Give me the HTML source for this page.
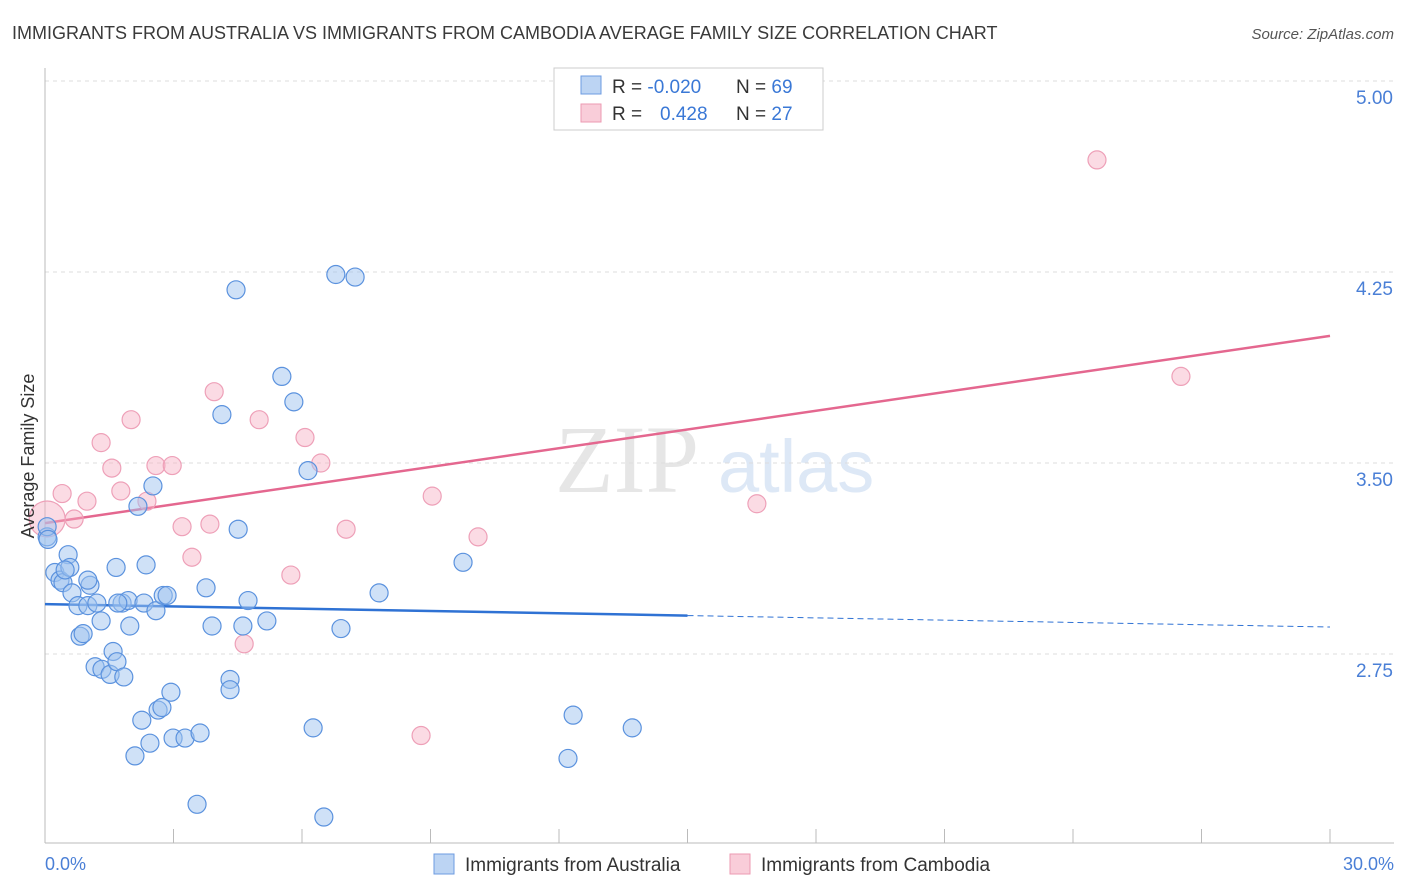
<!DOCTYPE html>
<html><head><meta charset="utf-8"><style>
body{margin:0;background:#fff;font-family:"Liberation Sans",sans-serif}
svg{display:block}
</style></head><body>
<svg id="chart" width="1406" height="892">
<text x="12" y="39" font-size="18" fill="#3a3a3a">IMMIGRANTS FROM AUSTRALIA VS IMMIGRANTS FROM CAMBODIA AVERAGE FAMILY SIZE CORRELATION CHART</text>
<text x="1394" y="39" font-size="15" fill="#555" text-anchor="end" font-style="italic">Source: ZipAtlas.com</text>
<text x="555" y="492" font-size="96" fill="#e6e6e6" font-family="Liberation Serif">ZIP</text>
<text x="718" y="492" font-size="74" fill="#dde8f6">atlas</text>
<g id="grid"></g><g id="axes"></g><g id="lines"></g><g id="pts"></g>
<text transform="translate(34,456) rotate(-90)" font-size="18" fill="#333" text-anchor="middle">Average Family Size</text>
<text x="45" y="870" font-size="18" fill="#4a7fd6">0.0%</text>
<text x="1394" y="870" font-size="18" fill="#4a7fd6" text-anchor="end">30.0%</text>
<g>
<rect x="554" y="68" width="269" height="62" fill="#fff" stroke="#ccc"/>
<rect x="581" y="76" width="20" height="18" fill="#bcd4f3" stroke="#6d9be0"/>
<rect x="581" y="104" width="20" height="18" fill="#f9cdd9" stroke="#ec9ab2"/>
<text x="612" y="93" font-size="19" fill="#333">R = <tspan fill="#3a78d6">-0.020</tspan><tspan x="736">N = </tspan><tspan fill="#3a78d6">69</tspan></text>
<text x="612" y="120" font-size="19" fill="#333">R = <tspan x="660" fill="#3a78d6">0.428</tspan><tspan x="736">N = </tspan><tspan fill="#3a78d6">27</tspan></text>
</g>
<g>
<rect x="434" y="854" width="20" height="20" fill="#bcd4f3" stroke="#6d9be0"/>
<text x="465" y="871" font-size="19" fill="#333">Immigrants from Australia</text>
<rect x="730" y="854" width="20" height="20" fill="#f9cdd9" stroke="#ec9ab2"/>
<text x="761" y="871" font-size="19" fill="#333">Immigrants from Cambodia</text>
</g>
</svg>
<script>
const yTicks=[5.00,4.25,3.50,2.75];
const yTickLabels=["5.00","4.25","3.50","2.75"];
const xTicks=[0,3,6,9,12,15,18,21,24,27,30];
const ausX=[0.05,0.05,0.23,0.35,0.42,0.54,0.58,0.47,0.63,0.77,0.82,0.89,1.00,1.05,1.00,1.17,1.21,1.31,1.33,1.52,1.59,1.68,1.66,1.84,1.80,1.94,1.98,2.17,2.26,2.31,2.36,2.45,2.52,2.59,2.64,2.73,2.76,2.85,2.94,2.10,2.99,3.27,3.62,3.55,3.76,3.90,4.13,4.32,4.32,4.46,4.51,4.62,4.74,5.18,5.53,5.81,6.14,6.26,6.51,6.79,6.91,7.24,7.80,9.76,12.21,12.33,13.71,0.07,1.70];
const ausY=[3.21,3.25,3.07,3.04,3.03,3.14,3.09,3.08,2.99,2.94,2.82,2.83,2.94,3.02,3.04,2.70,2.95,2.88,2.69,2.67,2.76,2.72,3.09,2.66,2.95,2.96,2.86,3.33,2.49,2.95,3.10,2.40,3.41,2.92,2.53,2.54,2.98,2.98,2.60,2.35,2.42,2.42,2.44,2.16,3.01,2.86,3.69,2.65,2.61,4.18,3.24,2.86,2.96,2.88,3.84,3.74,3.47,2.46,2.11,4.24,2.85,4.23,2.99,3.11,2.34,2.51,2.46,3.20,2.95];
const camX=[0.05,0.40,0.68,0.98,1.31,1.56,1.77,2.01,2.38,2.59,2.97,3.20,3.43,3.85,3.95,4.65,5.00,5.74,6.07,6.44,7.03,8.78,9.04,10.11,16.62,24.56,26.52];
const camY=[3.28,3.38,3.28,3.35,3.58,3.48,3.39,3.67,3.35,3.49,3.49,3.25,3.13,3.26,3.78,2.79,3.67,3.06,3.60,3.50,3.24,2.43,3.37,3.21,3.34,4.69,3.84];
const ausTrend=[2.946,2.856];
const camTrend=[3.264,3.999];
const NS="http://www.w3.org/2000/svg";
const X=v=>45+v/30*1285;
const Y=v=>463-(v-3.5)*254.7;
function mk(tag,attrs,parent){const e=document.createElementNS(NS,tag);for(const k in attrs)e.setAttribute(k,attrs[k]);document.getElementById(parent).appendChild(e);return e;}
yTicks.forEach((t,i)=>{
 const l=mk('line',{x1:45,x2:1394,y1:Y(t),y2:Y(t),stroke:'#ddd','stroke-dasharray':'4,4'},'grid');
 
 
 const tx=mk('text',{x:1393,y:Y(t)+23,'font-size':19,fill:'#4a7fd6','text-anchor':'end'},'grid');
 tx.textContent=yTickLabels[i];
 
 
});
const ax=mk('line',{x1:45,x2:45,y1:68,y2:843,stroke:'#bbb'},'axes');


const bx=mk('line',{x1:45,x2:1394,y1:843,y2:843,stroke:'#bbb'},'axes');


xTicks.forEach(t=>{
 const l=mk('line',{x1:X(t),x2:X(t),y1:829,y2:843,stroke:'#bbb'},'axes');
 
 
});
const aY=x=>ausTrend[0]+(ausTrend[1]-ausTrend[0])*x/30;
const l1=mk('line',{x1:X(0),y1:Y(aY(0)),x2:X(15),y2:Y(aY(15)),stroke:'#2f72d4','stroke-width':2.5},'lines');


const l2=mk('line',{x1:X(15),y1:Y(aY(15)),x2:X(30),y2:Y(aY(30)),stroke:'#2f72d4','stroke-width':1,'stroke-dasharray':'6,4'},'lines');


const l3=mk('line',{x1:X(0),y1:Y(camTrend[0]),x2:X(30),y2:Y(camTrend[1]),stroke:'#e4678f','stroke-width':2.5},'lines');


camX.forEach((x,i)=>{
 const c=mk('circle',{cx:X(x),cy:Y(camY[i]),r:i===0?18:9,fill:'rgba(246,176,196,0.45)',stroke:'#eea0b8','stroke-width':1.2},'pts');
 
 
});
ausX.forEach((x,i)=>{
 const c=mk('circle',{cx:X(x),cy:Y(ausY[i]),r:9,fill:'rgba(160,196,240,0.5)',stroke:'#5b92de','stroke-width':1.2},'pts');
 
 
});
</script>
</body></html>
